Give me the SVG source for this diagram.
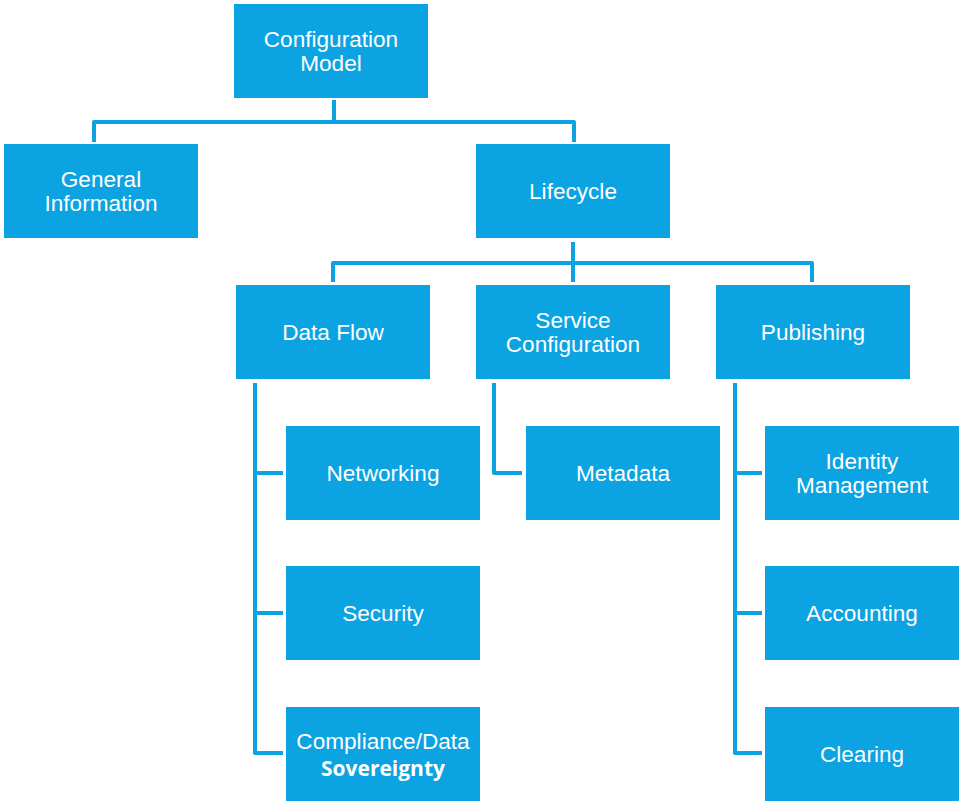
<svg xmlns="http://www.w3.org/2000/svg" width="963" height="806" viewBox="0 0 963 806">
<style>
.n rect{fill:#0BA3E2}
.n text{fill:#fff;font-family:"Liberation Sans",Arial,sans-serif;font-size:22.6px;text-anchor:middle}
.n text.b{font-family:"Open Sans","Noto Sans",sans-serif;font-weight:bold;font-size:21px}
#connectors path{fill:none;stroke:#0BA3E2;stroke-width:4;stroke-linejoin:round}
</style>
<rect width="963" height="806" fill="#fff"/>
<g id="connectors">
<path d="M334 100V122M94 142V122H574V142"/>
<path d="M573 242V282M333 282V263H812V282"/>
<path d="M255 383V753H283M255 473H283M255 613H283"/>
<path d="M494 383V473H522"/>
<path d="M735 383V753H762M735 473H762M735 613H762"/>
</g>
<g id="config-model" class="n"><rect x="234" y="4" width="194" height="94"/><text x="331" y="47">Configuration</text><text x="331" y="71">Model</text></g>
<g id="general-information" class="n"><rect x="4" y="144" width="194" height="94"/><text x="101" y="187">General</text><text x="101" y="211">Information</text></g>
<g id="lifecycle" class="n"><rect x="476" y="144" width="194" height="94"/><text x="573" y="199">Lifecycle</text></g>
<g id="data-flow" class="n"><rect x="236" y="285" width="194" height="94"/><text x="333" y="340">Data Flow</text></g>
<g id="service-configuration" class="n"><rect x="476" y="285" width="194" height="94"/><text x="573" y="328">Service</text><text x="573" y="352">Configuration</text></g>
<g id="publishing" class="n"><rect x="716" y="285" width="194" height="94"/><text x="813" y="340">Publishing</text></g>
<g id="networking" class="n"><rect x="286" y="426" width="194" height="94"/><text x="383" y="481">Networking</text></g>
<g id="security" class="n"><rect x="286" y="566" width="194" height="94"/><text x="383" y="621">Security</text></g>
<g id="compliance" class="n"><rect x="286" y="707" width="194" height="94"/><text x="383" y="749">Compliance/Data</text><text x="383" y="776" class="b">Sovereignty</text></g>
<g id="metadata" class="n"><rect x="526" y="426" width="194" height="94"/><text x="623" y="481">Metadata</text></g>
<g id="identity-management" class="n"><rect x="765" y="426" width="194" height="94"/><text x="862" y="469">Identity</text><text x="862" y="493">Management</text></g>
<g id="accounting" class="n"><rect x="765" y="566" width="194" height="94"/><text x="862" y="621">Accounting</text></g>
<g id="clearing" class="n"><rect x="765" y="707" width="194" height="94"/><text x="862" y="762">Clearing</text></g>
</svg>
